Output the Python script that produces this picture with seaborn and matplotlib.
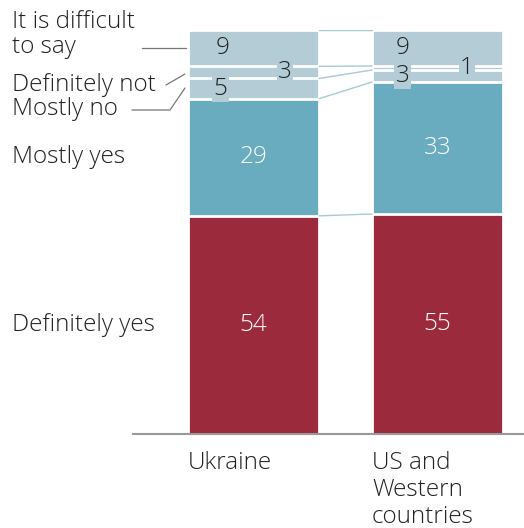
import numpy as np
import pandas as pd
import matplotlib
matplotlib.use("Agg")
import matplotlib.pyplot as plt
import seaborn as sns
from matplotlib.transforms import blended_transform_factory

countries = ["Ukraine", "US and\nWestern\ncountries"]
answers = ["Definitely yes", "Mostly yes", "Mostly no", "Definitely not", "It is difficult\nto say"]
ukraine = [54, 29, 5, 3, 9]
us_west = [55, 33, 3, 1, 9]

colors = ["#9c2a3d", "#6aacbf", "#b3ccd6", "#b3ccd6", "#b3ccd6"]
text_colors = ["white", "white", "#222222", "#222222", "#222222"]

sns.set_style("white")
plt.rcParams["font.family"] = ["Open Sans", "DejaVu Sans"]
plt.rcParams["font.weight"] = "light"
FS = 17.5

W, H = 524, 528
fig = plt.figure(figsize=(W / 100, H / 100), dpi=100)
ax = fig.add_axes([133 / W, (H - 434) / H, (W - 133) / W, 404 / H])

vals = np.array([ukraine, us_west], dtype=float)
# scale each bar to 100 (US answers sum to 101)
scaled = vals / vals.sum(axis=1, keepdims=True) * 100
cum = np.cumsum(scaled, axis=1)
bar_w = 0.712

# draw from the tallest cumulative layer down so each segment shows
for k in range(len(answers) - 1, -1, -1):
    df = pd.DataFrame({"country": countries, "top": cum[:, k]})
    sns.barplot(data=df, x="country", y="top", color=colors[k], width=bar_w,
                edgecolor="white", linewidth=2, saturation=1, ax=ax)

ax.set_xlim(-0.655, 1.47)
ax.set_ylim(0, 100)
ax.set_xlabel("")
ax.set_ylabel("")
ax.set_xticks([])
ax.set_yticks([])
for s in ["top", "left", "right"]:
    ax.spines[s].set_visible(False)
ax.spines["bottom"].set_color("#999999")
ax.spines["bottom"].set_linewidth(1.5)
ax.spines["bottom"].set_zorder(5)

# connector lines between the two bars
for k in range(len(answers)):
    ax.plot([bar_w / 2, 1 - bar_w / 2], [cum[0, k], cum[1, k]],
            color="#a9c9d4", lw=1, zorder=1)

# value labels
small_dx = {(0, 2): -0.18, (0, 3): 0.17, (0, 4): -0.17,
            (1, 2): -0.19, (1, 3): 0.16, (1, 4): -0.19}
for i in range(len(countries)):
    for k in range(len(answers)):
        y = cum[i, k] - scaled[i, k] / 2
        dx = small_dx.get((i, k), 0)
        box = None
        if k in (2, 3):
            box = dict(boxstyle="square,pad=0.05", fc=colors[k], ec="none")
        ax.text(i + dx, y, f"{int(vals[i, k])}", ha="center", va="center",
                fontsize=FS, color=text_colors[k], bbox=box, zorder=6)

# country labels
for i, c in enumerate(countries):
    ax.annotate(c, xy=(i - bar_w / 2, 0), xytext=(0, -12), textcoords="offset points",
                ha="left", va="top", fontsize=FS, color="#222222", linespacing=1.17)

# answer labels on the left
tr = blended_transform_factory(fig.transFigure, ax.transData)
label_y = [cum[0, 0] / 2, cum[0, 0] + scaled[0, 1] / 2, 80.4, 86.4, 98.8]
for k in range(len(answers)):
    fig.text(12 / W, label_y[k], answers[k], transform=tr, ha="left", va="center",
             fontsize=FS, color="#222222", linespacing=1.06)

# leader lines (figure pixels)
def px(xs, ys):
    return [x / W for x in xs], [1 - y / H for y in ys]

for xs, ys in [([142, 186], [48, 48]),
               ([166, 185], [85, 74]),
               ([132, 170, 185], [110, 110, 88])]:
    fx, fy = px(xs, ys)
    fig.add_artist(plt.Line2D(fx, fy, color="#777777", lw=0.9))

fig.savefig("out.png", dpi=100)
